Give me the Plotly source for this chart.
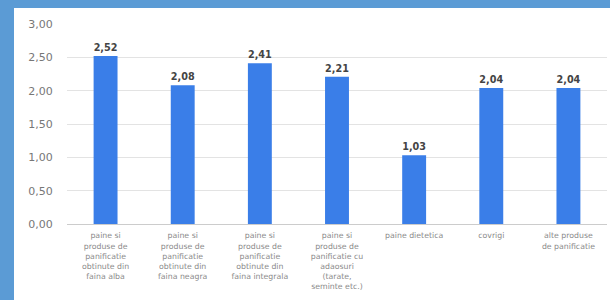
import plotly.graph_objects as go

categories = [
    "paine si<br>produse de<br>panificatie<br>obtinute din<br>faina alba",
    "paine si<br>produse de<br>panificatie<br>obtinute din<br>faina neagra",
    "paine si<br>produse de<br>panificatie<br>obtinute din<br>faina integrala",
    "paine si<br>produse de<br>panificatie cu<br>adaosuri<br>(tarate,<br>seminte etc.)",
    "paine dietetica",
    "covrigi",
    "alte produse<br>de panificatie",
]
values = [2.52, 2.08, 2.41, 2.21, 1.03, 2.04, 2.04]
tick_vals = [0, 0.5, 1.0, 1.5, 2.0, 2.5, 3.0]
tick_text = ["0,00", "0,50", "1,00", "1,50", "2,00", "2,50", "3,00"]
value_labels = ["2,52", "2,08", "2,41", "2,21", "1,03", "2,04", "2,04"]

L, R, T, B = 67, 3, 24, 76
W, H = 610, 300
pw, ph = W - L - R, H - T - B

fig = go.Figure(go.Bar(
    x=categories, y=values,
    marker=dict(color="#3a7ee8", line=dict(width=0)),
    text=value_labels, textposition="outside",
    textfont=dict(family="DejaVu Sans", size=10, color="#444444"),
    texttemplate="<b>%{text}</b>",
    cliponaxis=False,
))

fig.update_layout(
    width=W, height=H,
    margin=dict(l=L, r=R, t=T, b=B, autoexpand=False),
    paper_bgcolor="#5b9bd5",
    plot_bgcolor="rgba(0,0,0,0)",
    bargap=0.69,
    showlegend=False,
    font=dict(family="DejaVu Sans", color="#808080"),
    shapes=[dict(
        type="rect", xref="paper", yref="paper", layer="below",
        x0=(14 - L) / pw, x1=(W + 2 - L) / pw,
        y0=-(H + 2 - (T + ph)) / ph,
        y1=((T + ph) - 8) / ph,
        fillcolor="white", line=dict(width=0),
    )],
)
fig.update_xaxes(
    automargin=False,
    tickfont=dict(family="DejaVu Sans", size=7.8, color="#8a8a8a"),
    tickangle=0, ticks="outside", ticklen=4, tickcolor="rgba(0,0,0,0)",
    showline=False, showgrid=False,
)
fig.update_yaxes(
    automargin=False,
    range=[0, 3.0], tickvals=tick_vals, ticktext=tick_text,
    tickfont=dict(family="DejaVu Sans", size=11, color="#777777"),
    ticks="outside", ticklen=11, tickcolor="rgba(0,0,0,0)",
    showgrid=True, gridcolor="#e3e3e3", gridwidth=1,
    zeroline=True, zerolinecolor="#cccccc", zerolinewidth=1,
)

fig.write_html(
    "out.html",
    config={"displayModeBar": False},
    post_script="document.body.style.margin='0';document.body.style.overflow='hidden';",
)
